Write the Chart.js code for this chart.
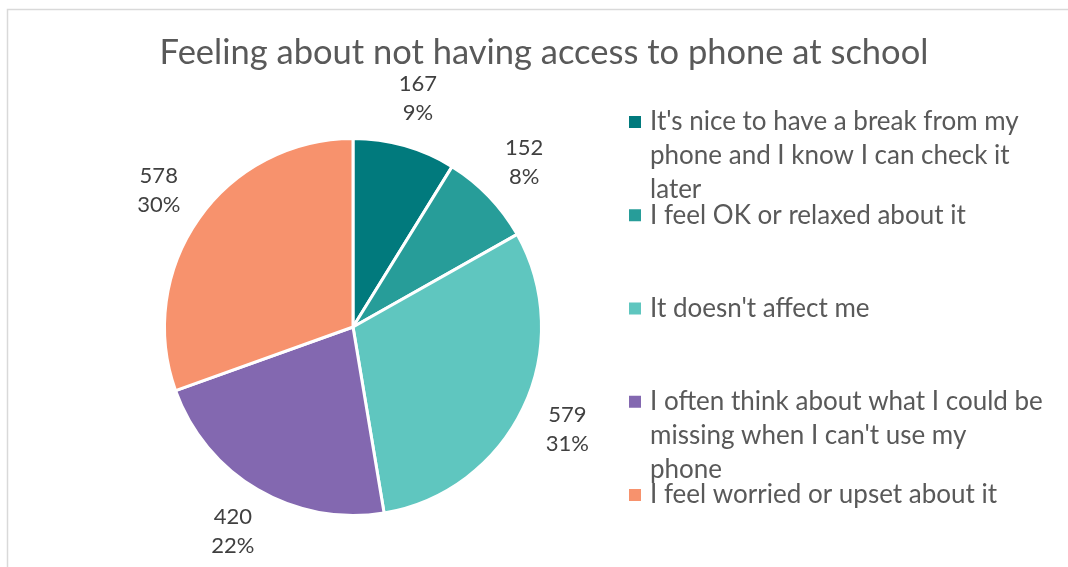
<!DOCTYPE html>
<html>
<head>
<meta charset="utf-8">
<title>Feeling about not having access to phone at school</title>
<script src="https://cdn.jsdelivr.net/npm/chart.js@4/dist/chart.umd.min.js"></script>
<style>
  html, body { margin: 0; padding: 0; background: #ffffff; }
  #wrap { position: relative; width: 1068px; height: 567px; }
</style>
</head>
<body>
<div id="wrap"><canvas id="chart" width="1068" height="567"></canvas></div>
<script>
// Survey responses: how pupils feel about not having their phone at school
const chartTitle = 'Feeling about not having access to phone at school';
const categories = [
  ["It's nice to have a break from my", 'phone and I know I can check it', 'later'],
  ['I feel OK or relaxed about it'],
  ["It doesn't affect me"],
  ['I often think about what I could be', "missing when I can't use my", 'phone'],
  ['I feel worried or upset about it']
];
const responseCounts = [167, 152, 579, 420, 578];
const sliceColors = ['#017A7D', '#279D99', '#5FC6BF', '#8368B0', '#F7926D'];

const FONT = 'Lato, "Open Sans", sans-serif';

const decorations = {
  id: 'decorations',
  beforeDraw(chart) {
    const ctx = chart.ctx;
    ctx.save();
    // frame lines along the top and left edges
    ctx.strokeStyle = '#d9d9d9';
    ctx.lineWidth = 1.5;
    ctx.beginPath();
    ctx.moveTo(7.5, 567);
    ctx.lineTo(7.5, 9.5);
    ctx.lineTo(1068, 9.5);
    ctx.stroke();
    // title
    ctx.fillStyle = '#595959';
    ctx.font = '34.5px ' + FONT;
    ctx.textAlign = 'center';
    ctx.textBaseline = 'middle';
    ctx.fillText(chartTitle, 544, 53);
    ctx.restore();
  },
  afterDatasetsDraw(chart) {
    // value and percentage outside each slice
    const ctx = chart.ctx;
    const meta = chart.getDatasetMeta(0);
    const data = chart.data.datasets[0].data;
    const total = data.reduce((a, b) => a + b, 0);
    ctx.save();
    ctx.fillStyle = '#404040';
    ctx.font = '22px ' + FONT;
    ctx.textAlign = 'center';
    ctx.textBaseline = 'middle';
    meta.data.forEach((arc, i) => {
      const p = arc.getProps(['x', 'y', 'startAngle', 'endAngle', 'outerRadius'], true);
      const mid = (p.startAngle + p.endAngle) / 2;
      const d = p.outerRadius + 49;
      const cx = p.x + Math.cos(mid) * d;
      const cy = p.y + Math.sin(mid) * d;
      const pct = Math.round(data[i] / total * 100) + '%';
      ctx.fillText(String(data[i]), cx, cy - 14.5);
      ctx.fillText(pct, cx, cy + 14.5);
    });
    ctx.restore();
  },
  afterDraw(chart) {
    // legend on the right with wrapped entries
    const ctx = chart.ctx;
    const labels = chart.data.labels;
    const colors = chart.data.datasets[0].backgroundColor;
    ctx.save();
    ctx.font = '26px ' + FONT;
    ctx.textAlign = 'left';
    ctx.textBaseline = 'middle';
    const top = 122, step = 93.25, lineGap = 34;
    labels.forEach((lines, i) => {
      const y0 = top + step * i;
      ctx.fillStyle = colors[i];
      ctx.fillRect(629, y0 - 6, 12, 12);
      ctx.fillStyle = '#595959';
      lines.forEach((ln, j) => ctx.fillText(ln, 650, y0 + j * lineGap));
    });
    ctx.restore();
  }
};

new Chart(document.getElementById('chart'), {
  type: 'pie',
  data: {
    labels: categories,
    datasets: [{
      data: responseCounts,
      backgroundColor: sliceColors,
      borderColor: '#ffffff',
      borderWidth: 3,
      hoverOffset: 0
    }]
  },
  options: {
    responsive: false,
    animation: false,
    layout: { padding: { left: 163, right: 525, top: 137, bottom: 50 } },
    plugins: {
      legend: { display: false },
      title: { display: false },
      tooltip: { enabled: false }
    }
  },
  plugins: [decorations]
});
</script>
</body>
</html>
